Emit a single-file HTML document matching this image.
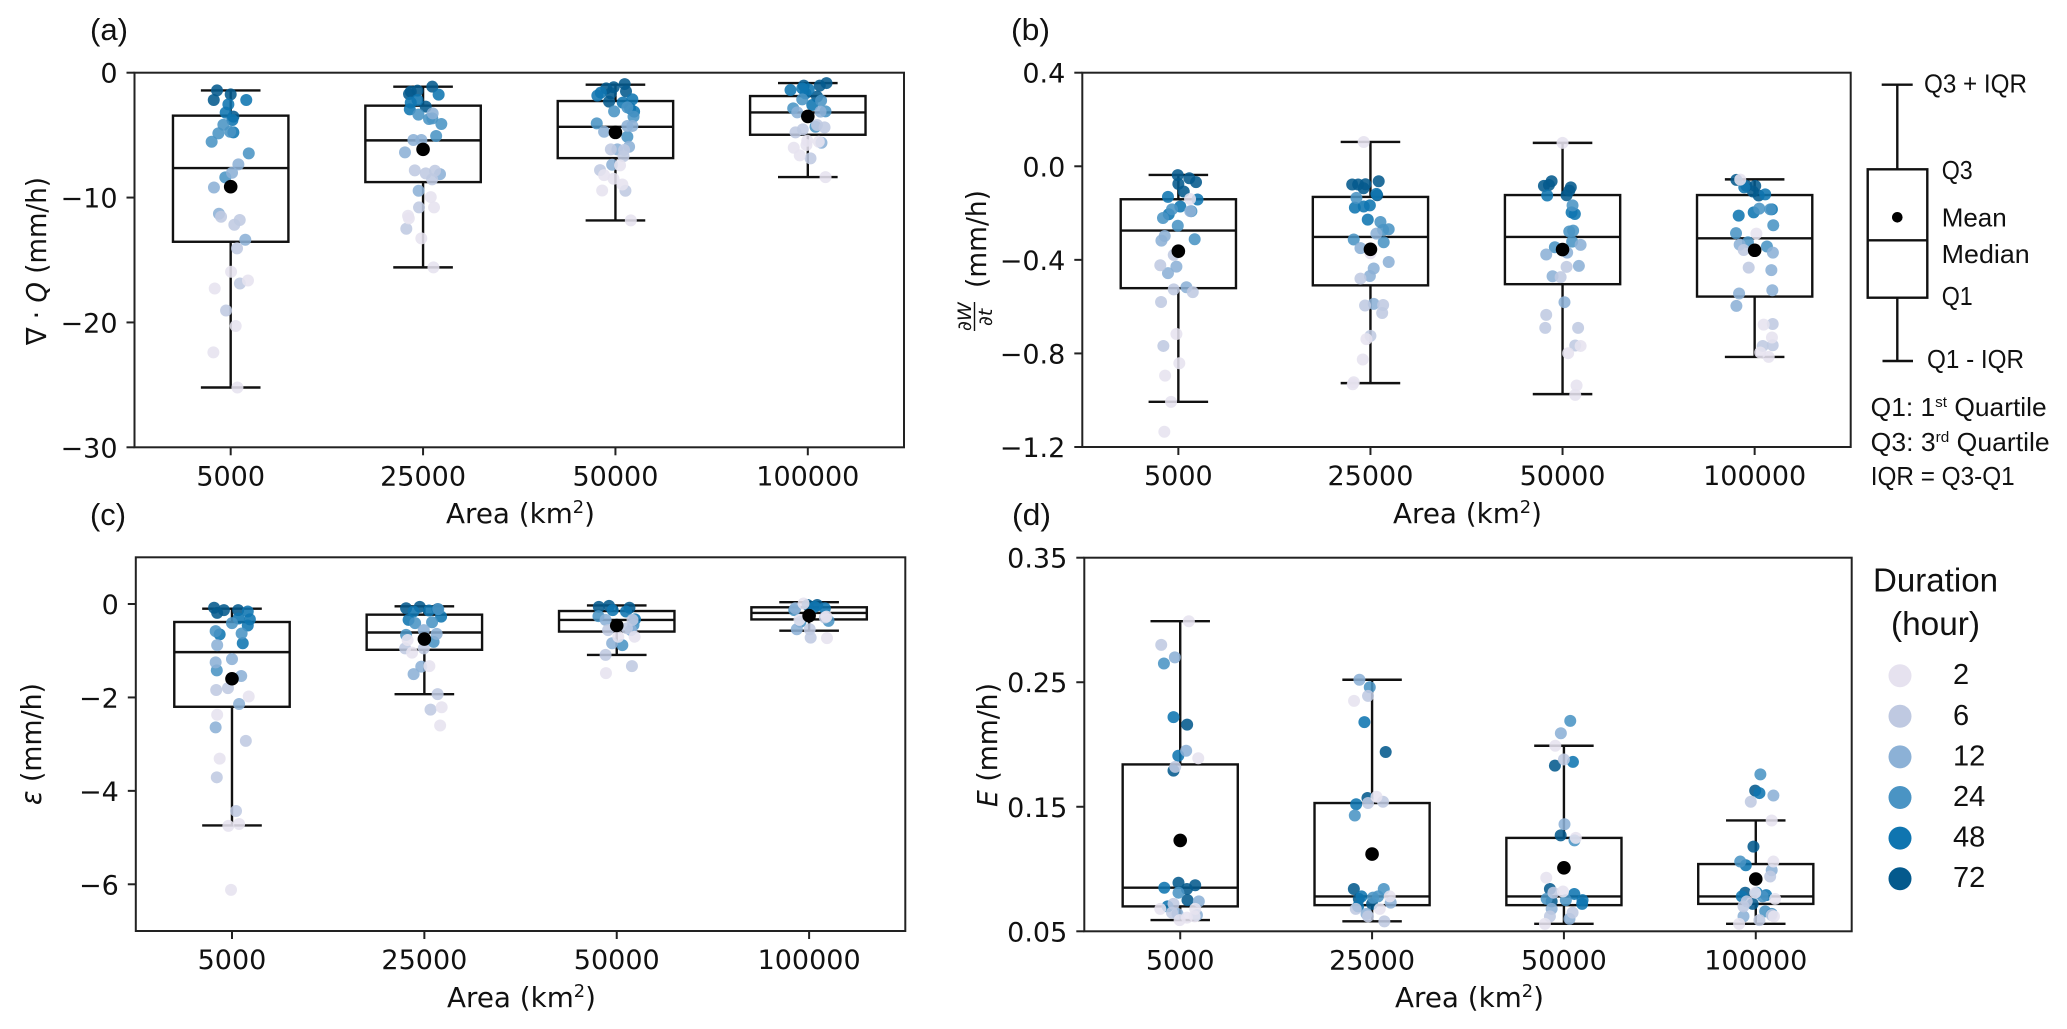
<!DOCTYPE html>
<html lang="en">
<head>
<meta charset="utf-8">
<title>Box plots by area</title>
<style>
html,body{margin:0;padding:0;background:#fff;}
svg{display:block;}
text{fill:#111;font-family:"DejaVu Sans","Liberation Sans",sans-serif;}
.tick{font-size:27px;}
.axt{font-size:28px;}
.ann{font-family:"Liberation Sans",sans-serif;font-size:26px;}
.pl{font-family:"Liberation Sans",sans-serif;font-size:31px;}
.leg{font-family:"Liberation Sans",sans-serif;font-size:33px;}
.it{font-style:italic;}
</style>
</head>
<body>
<svg id="fig" xmlns="http://www.w3.org/2000/svg" width="2067" height="1029" viewBox="0 0 2067 1029">
<rect x="0" y="0" width="2067" height="1029" fill="#fff"/>

<text class="pl" x="90" y="40" textLength="38" lengthAdjust="spacingAndGlyphs">(a)</text>
<text class="pl" x="1011" y="40" textLength="39" lengthAdjust="spacingAndGlyphs">(b)</text>
<text class="pl" x="90" y="525" textLength="36" lengthAdjust="spacingAndGlyphs">(c)</text>
<text class="pl" x="1012" y="525" textLength="39" lengthAdjust="spacingAndGlyphs">(d)</text>

<text class="axt" x="446" y="523" textLength="149" lengthAdjust="spacingAndGlyphs">Area (km<tspan dy="-10" font-size="18">2</tspan><tspan dy="10">)</tspan></text>
<text class="axt" x="1393" y="523" textLength="149" lengthAdjust="spacingAndGlyphs">Area (km<tspan dy="-10" font-size="18">2</tspan><tspan dy="10">)</tspan></text>
<text class="axt" x="447" y="1007" textLength="149" lengthAdjust="spacingAndGlyphs">Area (km<tspan dy="-10" font-size="18">2</tspan><tspan dy="10">)</tspan></text>
<text class="axt" x="1395" y="1007" textLength="149" lengthAdjust="spacingAndGlyphs">Area (km<tspan dy="-10" font-size="18">2</tspan><tspan dy="10">)</tspan></text>

<text class="axt" transform="translate(46,345) rotate(-90)" textLength="168" lengthAdjust="spacingAndGlyphs">∇ · <tspan class="it">Q</tspan> (mm/h)</text>
<text class="axt" transform="translate(986,288) rotate(-90)" textLength="98" lengthAdjust="spacingAndGlyphs">(mm/h)</text>
<g>
<text transform="translate(971,331) rotate(-90)" font-size="19" class="it">∂W</text>
<line x1="974.5" y1="302" x2="974.5" y2="331" stroke="#111" stroke-width="1.4"/>
<text transform="translate(992,326) rotate(-90)" font-size="19" class="it">∂t</text>
</g>
<text class="axt" transform="translate(41,805) rotate(-90)" textLength="122" lengthAdjust="spacingAndGlyphs"><tspan class="it">ε</tspan> (mm/h)</text>
<text class="axt" transform="translate(997,807) rotate(-90)" textLength="124" lengthAdjust="spacingAndGlyphs"><tspan class="it">E</tspan> (mm/h)</text>

<g id="key" stroke="#111" stroke-width="2.4" fill="none">
<line x1="1881.7" y1="84.7" x2="1912.7" y2="84.7"/>
<line x1="1897.3" y1="84.7" x2="1897.3" y2="169.3"/>
<rect x="1867.7" y="169.3" width="59.6" height="128.4"/>
<line x1="1867.7" y1="240.3" x2="1927.3" y2="240.3"/>
<line x1="1897.3" y1="297.7" x2="1897.3" y2="361"/>
<line x1="1882.5" y1="361" x2="1913" y2="361"/>
<circle cx="1897.3" cy="217.3" r="5.3" fill="#000" stroke="none"/>
</g>
<text class="ann" x="1924" y="92.7" textLength="103" lengthAdjust="spacingAndGlyphs">Q3 + IQR</text>
<text class="ann" x="1941.7" y="179" textLength="31" lengthAdjust="spacingAndGlyphs">Q3</text>
<text class="ann" x="1941.7" y="226.7" textLength="65" lengthAdjust="spacingAndGlyphs">Mean</text>
<text class="ann" x="1941.7" y="263" textLength="88" lengthAdjust="spacingAndGlyphs">Median</text>
<text class="ann" x="1941.7" y="305" textLength="31" lengthAdjust="spacingAndGlyphs">Q1</text>
<text class="ann" x="1927" y="368" textLength="97" lengthAdjust="spacingAndGlyphs">Q1 - IQR</text>
<text class="ann" x="1870.7" y="416" textLength="176" lengthAdjust="spacingAndGlyphs">Q1: 1<tspan dy="-9" font-size="15">st</tspan><tspan dy="9"> Quartile</tspan></text>
<text class="ann" x="1870.7" y="451" textLength="179" lengthAdjust="spacingAndGlyphs">Q3: 3<tspan dy="-9" font-size="15">rd</tspan><tspan dy="9"> Quartile</tspan></text>
<text class="ann" x="1870.7" y="485" textLength="144" lengthAdjust="spacingAndGlyphs">IQR = Q3-Q1</text>

<text class="leg" x="1873" y="591.7" textLength="125" lengthAdjust="spacingAndGlyphs">Duration</text>
<text class="leg" x="1891" y="635" textLength="89" lengthAdjust="spacingAndGlyphs">(hour)</text>
</svg>

<script>
const categories = ['5000', '25000', '50000', '100000'];

const legendDurations = [2, 6, 12, 24, 48, 72];
const durationColors = ['#e6e2ef', '#bfc9e1', '#8cb1d6', '#4a94c4', '#0f75b0', '#045a8d'];

/* Panel (a) */
const aDomain = [-30, 0];
const aTicks = [0, -10, -20, -30];
const aTickLabels = ['0', '\u221210', '\u221220', '\u221230'];
const aQ1 = [-13.54, -8.76, -6.84, -4.97];
const aMedian = [-7.64, -5.42, -4.33, -3.18];
const aQ3 = [-3.44, -2.64, -2.27, -1.87];
const aLow = [-25.21, -15.59, -11.83, -8.36];
const aHigh = [-1.42, -1.12, -0.96, -0.83];
const aMean = [-9.13, -6.14, -4.78, -3.50];
const aValues = [
[-1.42,-1.74,-2.19,-3.52,-2.54,-3.20,-3.79,-4.78,-2.19,-4.17,-4.86,-5.53,-4.73,-6.46,-8.38,-7.34,-8.01,-9.19,-11.30,-13.38,-11.54,-11.80,-12.18,-14.07,-16.88,-19.04,-15.94,-16.64,-17.28,-20.29,-22.40,-25.21],
[-1.12,-1.52,-1.44,-1.71,-2.72,-1.76,-2.19,-2.40,-2.94,-3.66,-5.07,-4.11,-3.36,-3.71,-3.26,-6.38,-9.45,-5.39,-8.12,-5.39,-7.82,-8.06,-7.85,-8.54,-10.79,-12.5,-9.96,-10.79,-11.46,-11.67,-13.27,-15.59],
[-0.91,-1.17,-1.26,-1.50,-2.32,-1.66,-1.84,-1.60,-2.40,-2.14,-3.12,-2.86,-3.10,-4.06,-2.78,-3.52,-5.13,-4.73,-4.27,-4.27,-6.14,-7.37,-5.93,-6.14,-6.19,-6.68,-7.80,-9.45,-7.42,-8.20,-8.49,-8.95,-9.43,-11.83],
[-1.04,-0.83,-1.04,-1.92,-1.39,-1.66,-1.34,-1.26,-2.59,-2.86,-2.24,-3.10,-2.14,-4.33,-3.18,-3.12,-5.61,-4.78,-4.54,-4.19,-6.86,-4.38,-5.45,-5.53,-6.01,-6.62,-8.36,-5.79]
];
const aJitter = [
[-.071,0,-.088,.014,-.012,-.026,.009,.014,.081,-.038,-.064,-.099,-.003,.094,-.028,.04,.007,-.087,-.061,.076,-.05,.047,.019,.033,.048,-.024,.002,.09,-.083,.026,-.09,.035],
[.048,-.064,-.029,-.073,.014,.081,-.029,-.064,-.069,.048,.068,.095,-.024,.031,.05,-.094,-.023,-.05,.088,-.009,-.043,.014,.062,.047,-.021,-.087,.04,.057,-.078,-.074,-.009,.054],
[.048,-.009,-.048,.055,-.033,-.024,-.094,-.076,.038,.088,.097,.076,-.007,-.097,.062,.094,.062,-.059,.062,.088,.01,-.017,.071,-.024,.045,.042,-.08,.052,.024,-.059,-.01,.036,-.069,.08],
[-.021,.097,.062,.048,-.09,-.012,.005,-.029,.023,-.076,.069,.092,-.029,.04,-.055,.066,.071,-.064,-.026,.048,.014,.087,-.003,.057,-.073,-.042,.092,-.007]
];
const aDuration = [
[72,72,72,72,48,48,48,48,48,24,24,24,24,24,24,12,12,12,12,12,6,6,6,6,6,6,2,2,2,2,2,2],
[72,72,72,72,72,48,48,48,48,24,24,24,24,24,12,12,12,12,12,12,6,6,6,6,6,6,2,2,2,2,2,2],
[72,72,72,72,72,72,48,48,48,48,48,48,24,24,24,24,24,12,12,12,12,12,12,6,6,6,6,6,2,2,2,2,2,2],
[72,72,72,72,48,48,48,48,48,24,24,24,24,24,12,12,12,6,6,6,6,6,2,2,2,2,2,2]
];

/* Panel (b) */
const bDomain = [-1.2, 0.4];
const bTicks = [0.4, 0, -0.4, -0.8, -1.2];
const bTickLabels = ['0.4', '0.0', '\u22120.4', '\u22120.8', '\u22121.2'];
const bQ1 = [-0.521, -0.509, -0.504, -0.557];
const bMedian = [-0.275, -0.302, -0.302, -0.308];
const bQ3 = [-0.141, -0.131, -0.123, -0.123];
const bLow = [-1.007, -0.927, -0.974, -0.815];
const bHigh = [-0.037, 0.104, 0.1, -0.056];
const bMean = [-0.363, -0.355, -0.356, -0.359];
const bValues = [
[-.038,-.051,-.068,-.075,-.108,-.131,-.142,-.205,-.172,-.254,-.312,-.192,-.184,-.221,-.298,-.318,-.429,-.457,-.517,-.192,-.423,-.526,-.538,-.58,-.768,-.379,-.14,-.717,-.842,-.895,-1.007,-1.135],
[-.078,-.078,-.077,-.064,-.094,-.124,-.177,-.172,-.167,-.228,-.118,-.135,-.238,-.269,-.272,-.313,-.325,-.288,-.35,-.409,-.437,-.469,-.588,-.48,-.595,-.593,-.627,-.725,-.372,-.739,-.826,-.923,-.932,.104],
[-.064,-.08,-.084,-.09,-.104,-.124,-.125,-.204,-.197,-.167,-.279,-.275,-.322,-.346,-.336,-.377,-.369,-.426,-.47,-.581,-.43,-.474,-.635,-.691,-.691,-.766,.1,-.799,-.768,-.937,-.977],
[-.058,-.084,-.084,-.108,-.125,-.09,-.12,-.211,-.197,-.184,-.181,-.184,-.252,-.286,-.325,-.343,-.335,-.369,-.444,-.544,-.53,-.597,-.358,-.433,-.674,-.768,-.765,-.057,-.288,-.677,-.732,-.796,-.815]
];
const bJitter = [
[-.003,.057,.092,0,.028,-.054,.1,-.05,.01,-.003,.085,.068,-.033,-.08,-.071,-.088,-.01,-.054,.042,.062,-.094,-.024,.075,-.09,-.078,-.024,.061,-.01,.005,-.069,-.038,-.073],
[-.095,-.064,-.026,.043,-.036,.035,-.081,-.035,-.003,-.014,.031,-.073,.052,.095,.066,-.087,.069,.031,-.052,.095,.017,-.003,.017,-.052,-.028,.066,.061,0,0,-.021,-.04,-.087,-.092,-.035],
[-.057,-.071,-.097,.043,.035,.021,-.08,.064,.047,.052,.035,.055,.05,-.04,.094,-.085,.024,.085,-.052,.01,.021,-.01,-.085,-.09,.081,.066,0,.029,.094,.073,.066],
[-.095,-.043,.003,-.009,.021,-.054,.055,-.083,-.005,.09,.024,.081,.097,-.097,-.035,.064,-.078,.095,.087,-.081,.092,-.095,-.057,-.031,.094,.042,.094,-.075,.009,.047,.09,.029,.073]
];
const bDuration = [
[72,72,72,72,72,48,48,48,48,24,24,24,24,24,12,12,12,12,12,12,6,6,6,6,6,6,2,2,2,2,2,2],
[72,72,72,72,72,72,48,48,48,48,48,24,24,24,24,24,24,12,12,12,12,12,12,6,6,6,6,6,2,2,2,2,2,2],
[72,72,72,72,72,72,48,48,48,24,24,24,24,24,12,12,12,12,12,12,6,6,6,6,6,6,2,2,2,2,2],
[72,72,72,72,72,48,48,48,48,48,24,24,24,24,24,24,12,12,12,12,12,12,6,6,6,6,6,2,2,2,2,2,2]
];

/* Panel (c) */
const cDomain = [-7, 1];
const cTicks = [0, -2, -4, -6];
const cTickLabels = ['0', '\u22122', '\u22124', '\u22126'];
const cQ1 = [-2.20, -0.98, -0.59, -0.33];
const cMedian = [-1.03, -0.61, -0.34, -0.19];
const cQ3 = [-0.385, -0.228, -0.15, -0.07];
const cLow = [-4.74, -1.93, -1.09, -0.57];
const cHigh = [-0.10, -0.05, -0.03, 0.04];
const cMean = [-1.60, -0.75, -0.46, -0.25];
const cValues = [
[-.08,-.19,-.13,-.13,-.16,-.33,-.46,-.31,-.65,-.84,-.58,-.63,-1.42,-.41,-.88,-1.25,-1.18,-1.54,-2.14,-2.64,-1.84,-1.80,-2.93,-3.71,-4.43,-1.98,-2.37,-3.31,-4.75,-4.71,-6.12],
[-.09,-.06,-.11,-.16,-.14,-.27,-.34,-.41,-.39,-.66,-.81,-.11,-1.34,-1.50,-.64,-.56,-.95,-1.93,-2.26,-.95,-.77,-1.04,-1.33,-2.21,-2.60],
[-.06,-.04,-.08,-.13,-.16,-.33,-.26,-.45,-.88,-.34,-.84,-.56,-.34,-.56,-.52,-1.09,-1.33,-.70,-.70,-1.48],
[-.02,-.02,-.09,-.06,-.13,-.38,-.36,-.54,-.09,-.72,-.29,-.54,.01,-.73,-.27,-.34]
];
const cJitter = [
[-.093,-.077,-.042,.032,.082,.093,.082,.034,-.064,.056,-.085,.05,-.079,0,-.077,-.085,0,.048,.037,-.085,-.082,-.021,.072,-.079,.021,.087,-.077,-.064,-.019,.037,-.005],
[-.095,-.024,.069,-.056,.024,.087,-.082,-.048,.04,-.095,.048,.072,-.016,-.056,.064,-.003,-.1,.069,.032,-.003,-.087,-.064,.026,.09,.082],
[-.093,-.04,.066,-.021,.048,.095,-.095,.087,.029,-.058,-.024,.074,.082,-.045,.053,-.058,.079,.008,.093,-.056],
[-.008,.042,.082,.029,-.077,-.045,.101,-.064,-.072,.008,.082,.003,-.029,.093,.09,-.05]
];
const cDuration = [
[72,72,72,72,48,48,48,48,48,48,24,24,24,24,12,12,12,12,12,12,6,6,6,6,6,2,2,2,2,2,2],
[72,72,72,48,48,48,48,24,24,24,24,24,12,12,12,12,6,6,6,6,2,2,2,2,2],
[72,72,72,48,48,48,24,24,24,12,12,12,6,6,6,6,6,2,2,2],
[72,72,48,48,24,24,24,12,12,6,6,6,2,2,2,2]
];

/* Panel (d) */
const dDomain = [0.05, 0.35];
const dTicks = [0.35, 0.25, 0.15, 0.05];
const dTickLabels = ['0.35', '0.25', '0.15', '0.05'];
const dQ1 = [0.07, 0.071, 0.071, 0.072];
const dMedian = [0.085, 0.078, 0.078, 0.078];
const dQ3 = [0.184, 0.153, 0.125, 0.104];
const dLow = [0.059, 0.058, 0.056, 0.056];
const dHigh = [0.299, 0.252, 0.199, 0.139];
const dMean = [0.123, 0.112, 0.101, 0.092];
const dValues = [
[.216,.179,.089,.087,.084,.075,.222,.191,.085,.07,.265,.081,.27,.195,.074,.064,.063,.28,.182,.072,.065,.299,.189,.068,.068,.059,.061,.062],
[.194,.157,.084,.072,.076,.218,.152,.07,.078,.246,.143,.084,.078,.077,.252,.073,.064,.239,.153,.154,.058,.068,.062,.235,.158,.078,.068],
[.183,.084,.074,.127,.186,.08,.072,.075,.219,.123,.076,.075,.209,.136,.068,.06,.188,.062,.065,.081,.199,.125,.093,.082,.056],
[.163,.118,.081,.072,.161,.103,.078,.081,.079,.176,.106,.078,.066,.064,.159,.099,.062,.154,.094,.07,.074,.059,.063,.139,.106,.081,.076,.056,.062]
];
const dJitter = [
[.036,-.035,-.009,.078,.035,.038,-.035,-.01,-.083,-.066,-.085,-.009,-.028,.031,.097,-.014,.087,-.099,-.026,-.035,-.043,.045,.094,-.104,.078,-.003,.035,.075],
[.071,-.024,-.095,0,-.069,-.04,-.083,-.073,-.055,-.012,-.09,.061,.031,.005,-.066,.097,-.029,-.021,-.021,.057,.064,-.085,-.021,-.094,.023,.092,.04],
[-.047,-.073,-.064,-.017,.047,.054,.095,.097,.033,.055,-.09,.01,-.016,.003,-.064,.029,0,-.073,.045,-.055,-.045,.062,-.092,-.005,-.099],
[-.003,-.012,-.055,-.016,.019,-.052,-.073,.005,.054,.024,-.081,.036,.049,.083,.092,.083,-.064,-.026,.075,-.064,-.047,.019,.083,.083,.092,-.003,.101,-.087,.095]
];
const dDuration = [
[72,72,72,72,72,72,48,48,48,48,24,24,12,12,12,12,12,6,6,6,6,2,2,2,2,2,2,2],
[72,72,72,72,72,48,48,48,48,24,24,24,24,24,12,12,12,6,6,6,6,6,6,2,2,2,2],
[72,72,72,72,48,48,48,48,24,24,24,24,12,12,12,12,6,6,6,6,2,2,2,2,2],
[72,72,72,72,48,48,48,48,48,24,24,24,24,24,12,12,12,6,6,6,6,6,6,2,2,2,2,2,2]
];

const NS = 'http://www.w3.org/2000/svg';
const fig = document.getElementById('fig');

function make(tag, attrs, parent) {
  const node = document.createElementNS(NS, tag);
  Object.keys(attrs).forEach(function (k) { node.setAttribute(k, attrs[k]); });
  parent.appendChild(node);
  return node;
}

function colorOf(hours) {
  return durationColors[legendDurations.indexOf(hours)];
}

const panels = [
  { id: 'a', left: 134.5, right: 904, top: 72.7, bottom: 447.3, domain: aDomain, ticks: aTicks, labels: aTickLabels, q1: aQ1, med: aMedian, q3: aQ3, low: aLow, high: aHigh, mean: aMean, values: aValues, jitter: aJitter, dur: aDuration },
  { id: 'b', left: 1082.3, right: 1850.7, top: 72.7, bottom: 447, domain: bDomain, ticks: bTicks, labels: bTickLabels, q1: bQ1, med: bMedian, q3: bQ3, low: bLow, high: bHigh, mean: bMean, values: bValues, jitter: bJitter, dur: bDuration },
  { id: 'c', left: 135.8, right: 905.3, top: 557.3, bottom: 931, domain: cDomain, ticks: cTicks, labels: cTickLabels, q1: cQ1, med: cMedian, q3: cQ3, low: cLow, high: cHigh, mean: cMean, values: cValues, jitter: cJitter, dur: cDuration },
  { id: 'd', left: 1084.3, right: 1851.7, top: 557.7, bottom: 931.3, domain: dDomain, ticks: dTicks, labels: dTickLabels, q1: dQ1, med: dMedian, q3: dQ3, low: dLow, high: dHigh, mean: dMean, values: dValues, jitter: dJitter, dur: dDuration }
];

panels.forEach(function (p) {
  const step = (p.right - p.left) / categories.length;
  const xScale = function (pos) { return p.left + (pos + 0.5) * step; };
  const yScale = function (v) {
    return p.bottom - (v - p.domain[0]) / (p.domain[1] - p.domain[0]) * (p.bottom - p.top);
  };

  const group = make('g', {}, fig);
  
  

  const stroke = { stroke: '#111', 'stroke-width': 2.4, fill: 'none' };

  categories.forEach(function (cat, i) {
    const cx = xScale(i);
    const halfBox = step * 0.3;
    const halfCap = step * 0.155;

    const whiskerHigh = make('line', Object.assign({ x1: cx, x2: cx, y1: yScale(p.high[i]), y2: yScale(p.q3[i]) }, stroke), group);
    
    

    const whiskerLow = make('line', Object.assign({ x1: cx, x2: cx, y1: yScale(p.q1[i]), y2: yScale(p.low[i]) }, stroke), group);
    
    

    const capHigh = make('line', Object.assign({ x1: cx - halfCap, x2: cx + halfCap, y1: yScale(p.high[i]), y2: yScale(p.high[i]) }, stroke), group);
    
    

    const capLow = make('line', Object.assign({ x1: cx - halfCap, x2: cx + halfCap, y1: yScale(p.low[i]), y2: yScale(p.low[i]) }, stroke), group);
    
    

    const box = make('rect', Object.assign({ x: cx - halfBox, width: 2 * halfBox, y: yScale(p.q3[i]), height: yScale(p.q1[i]) - yScale(p.q3[i]) }, stroke), group);
    
    

    const median = make('line', Object.assign({ x1: cx - halfBox, x2: cx + halfBox, y1: yScale(p.med[i]), y2: yScale(p.med[i]) }, stroke), group);
    
    

    p.values[i].forEach(function (v, k) {
      const dot = make('circle', { cx: xScale(i + p.jitter[i][k]), cy: yScale(v), r: 6, fill: colorOf(p.dur[i][k]), 'fill-opacity': 0.88 }, group);
      
      
    });

    const mean = make('circle', { cx: cx, cy: yScale(p.mean[i]), r: 6.8, fill: '#000' }, group);
    
    

    const tick = make('line', { x1: cx, x2: cx, y1: p.bottom, y2: p.bottom + 8, stroke: '#222', 'stroke-width': 2 }, group);
    
    

    const label = make('text', { x: cx, y: p.bottom + 38, 'text-anchor': 'middle', class: 'tick' }, group);
    
    
    label.textContent = cat;
  });

  p.ticks.forEach(function (t, k) {
    const tick = make('line', { x1: p.left - 8, x2: p.left, y1: yScale(t), y2: yScale(t), stroke: '#222', 'stroke-width': 2 }, group);
    
    

    const label = make('text', { x: p.left - 17, y: yScale(t) + 10, 'text-anchor': 'end', class: 'tick' }, group);
    
    
    label.textContent = p.labels[k];
  });

  const frame = make('rect', { x: p.left, y: p.top, width: p.right - p.left, height: p.bottom - p.top, fill: 'none', stroke: '#222', 'stroke-width': 2 }, group);
  
  
});

const legendY = function (idx) { return 675.7 + idx * 40.6; };
legendDurations.forEach(function (h, i) {
  const swatch = make('circle', { cx: 1900, cy: legendY(i), r: 11.5, fill: colorOf(h) }, fig);
  
  

  const text = make('text', { x: 1953, y: legendY(i) + 8.5, class: 'leg', style: 'font-size:29px' }, fig);
  
  
  text.textContent = String(h);
});
</script>
</body>
</html>
